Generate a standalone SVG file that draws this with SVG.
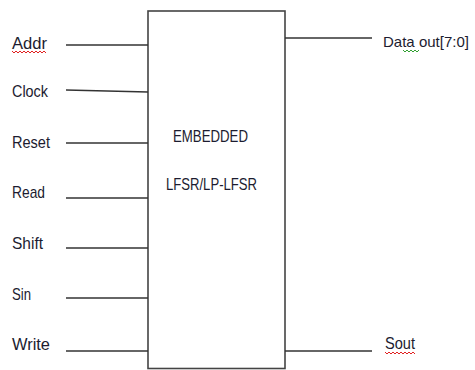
<svg xmlns="http://www.w3.org/2000/svg" width="475" height="370" viewBox="0 0 475 370">
<style>
text{font-family:"Liberation Sans",Arial,sans-serif;font-size:17px;fill:#1c1c30}
.w{stroke:#333;stroke-width:1.6;fill:none}
.sq{fill:none;stroke-width:1}
</style>
<rect width="475" height="370" fill="#fff"/>
<g id="block">
<rect x="148" y="11" width="137" height="357.5" fill="#fff" stroke="#444" stroke-width="1.6"/>
<text x="173" y="142" textLength="75" lengthAdjust="spacingAndGlyphs">EMBEDDED</text>
<text x="166" y="190" textLength="91" lengthAdjust="spacingAndGlyphs">LFSR/LP-LFSR</text>
</g>
<g id="connectors">
<line class="w" x1="66" y1="45" x2="148" y2="45" stroke="#666" stroke-width="2"/>
<line class="w" x1="66" y1="90" x2="148" y2="92"/>
<line class="w" x1="66" y1="143" x2="148" y2="143"/>
<line class="w" x1="66" y1="198" x2="148" y2="198"/>
<line class="w" x1="66" y1="248" x2="148" y2="248"/>
<line class="w" x1="66" y1="298" x2="148" y2="298"/>
<line class="w" x1="66" y1="351" x2="148" y2="351"/>
<line class="w" x1="285" y1="38" x2="372" y2="38"/>
<line class="w" x1="285" y1="351" x2="372" y2="351"/>
</g>
<g id="inputs">
<text x="12" y="49" textLength="35" lengthAdjust="spacingAndGlyphs">Addr</text>
<text x="12" y="97" textLength="36" lengthAdjust="spacingAndGlyphs">Clock</text>
<text x="12" y="148" textLength="38" lengthAdjust="spacingAndGlyphs">Reset</text>
<text x="12" y="198" textLength="33" lengthAdjust="spacingAndGlyphs">Read</text>
<text x="12" y="249" textLength="31" lengthAdjust="spacingAndGlyphs">Shift</text>
<text x="12" y="300" textLength="19" lengthAdjust="spacingAndGlyphs">Sin</text>
<text x="12" y="350" textLength="38" lengthAdjust="spacingAndGlyphs">Write</text>
</g>
<g id="outputs">
<text x="383" y="47" style="font-size:15px" textLength="86" lengthAdjust="spacingAndGlyphs">Data out[7:0]</text>
<text x="385" y="349" textLength="30" lengthAdjust="spacingAndGlyphs">Sout</text>
</g>
<g id="marks">
<polyline class="sq" stroke="#e02020" points="12,51 14,53 16,51 18,53 20,51 22,53 24,51 26,53 28,51 30,53 32,51 34,53 36,51 38,53 40,51 42,53 44,51 46,53"/>
<polyline class="sq" stroke="#30a030" points="403,50 405,52 407,50 409,52 411,50 413,52 415,50 417,52 419,50"/>
<polyline class="sq" stroke="#e02020" points="385,352 387,354 389,352 391,354 393,352 395,354 397,352 399,354 401,352 403,354 405,352 407,354 409,352 411,354 413,352 415,354"/>
</g>
</svg>
